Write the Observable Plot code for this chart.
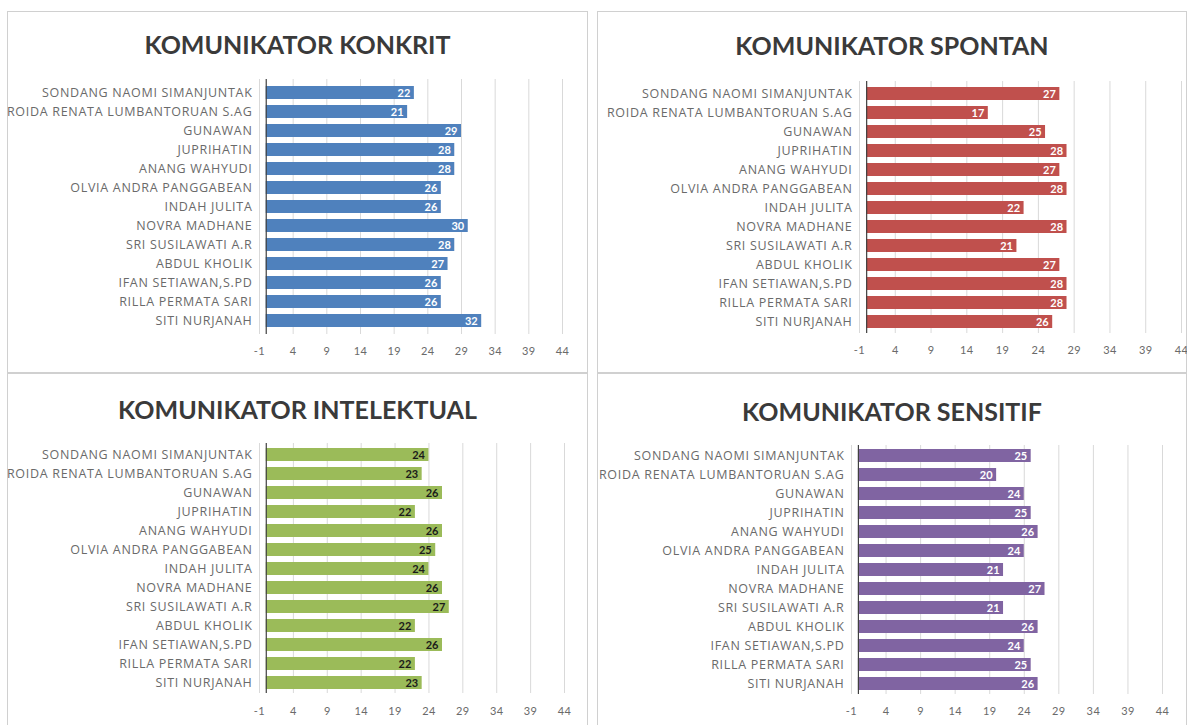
<!DOCTYPE html>
<html>
<head>
<meta charset="utf-8">
<script src="https://cdn.jsdelivr.net/npm/d3@7"></script>
<script src="https://cdn.jsdelivr.net/npm/@observablehq/plot@0.6"></script>
<style>
  html, body { margin: 0; padding: 0; background: #fff; }
  body { width: 1198px; height: 725px; overflow: hidden; position: relative; font-family: Lato, "Open Sans", sans-serif; }
  .panel { position: absolute; background: #fff; box-shadow: inset 0 0 0 1px #d0d0d0; overflow: hidden; }
  .panel svg { position: absolute; left: 0; top: 0; }
  .panel svg g[aria-label="y-axis tick label"] text { letter-spacing: 0.7px; }
  .panel svg g[aria-label="x-axis tick label"] text { letter-spacing: 0.4px; }
  .title { position: absolute; left: 0; right: 0; text-align: center; font-weight: 700; font-size: 25px; color: #3a3a3a; line-height: 1; z-index: 2; }
</style>
</head>
<body>
<script>
const names = [
  "SONDANG NAOMI SIMANJUNTAK",
  "ROIDA RENATA LUMBANTORUAN S.AG",
  "GUNAWAN",
  "JUPRIHATIN",
  "ANANG WAHYUDI",
  "OLVIA ANDRA PANGGABEAN",
  "INDAH JULITA",
  "NOVRA MADHANE",
  "SRI SUSILAWATI A.R",
  "ABDUL KHOLIK",
  "IFAN SETIAWAN,S.PD",
  "RILLA PERMATA SARI",
  "SITI NURJANAH"
];
const konkrit     = [22, 21, 29, 28, 28, 26, 26, 30, 28, 27, 26, 26, 32];
const spontan     = [27, 17, 25, 28, 27, 28, 22, 28, 21, 27, 28, 28, 26];
const intelektual = [24, 23, 26, 22, 26, 25, 24, 26, 27, 22, 26, 22, 23];
const sensitif    = [25, 20, 24, 25, 26, 24, 21, 27, 21, 26, 24, 25, 26];
const xTicks = [-1, 4, 9, 14, 19, 24, 29, 34, 39, 44];

const titles = ["KOMUNIKATOR KONKRIT", "KOMUNIKATOR SPONTAN", "KOMUNIKATOR INTELEKTUAL", "KOMUNIKATOR SENSITIF"];
const colors = ["#4f81bd", "#c0504d", "#9bbb59", "#8064a2"];
const labelColors = ["#ffffff", "#ffffff", "#1a1a1a", "#ffffff"];
const series = [konkrit, spontan, intelektual, sensitif];

const layouts = [
  {left: 7,   top: 11,  w: 581, h: 362, mL: 252, mR: 26, mT: 68, mB: 39, titleY: 21, tp: 13},
  {left: 597, top: 11,  w: 590, h: 362, mL: 262, mR: 6,  mT: 70, mB: 40, titleY: 22, tp: 13},
  {left: 7,   top: 373, w: 581, h: 360, mL: 252, mR: 24, mT: 70, mB: 40, titleY: 24, tp: 14},
  {left: 597, top: 373, w: 590, h: 360, mL: 254, mR: 25, mT: 72, mB: 39, titleY: 26, tp: 13}
];

series.forEach((vals, i) => {
  const L = layouts[i];
  const data = names.map((n, j) => ({name: n, value: vals[j]}));
  const panel = document.createElement("div");
  panel.className = "panel";
  Object.assign(panel.style, {left: L.left + "px", top: L.top + "px", width: L.w + "px", height: L.h + "px"});
  const t = document.createElement("div");
  t.className = "title";
  t.style.top = L.titleY + "px";
  t.textContent = titles[i];
  panel.appendChild(t);

  const chart = Plot.plot({
    width: L.w, height: L.h,
    marginLeft: L.mL, marginRight: L.mR, marginTop: L.mT, marginBottom: L.mB,
    style: {fontFamily: "Lato, sans-serif", background: "transparent", color: "#666666", overflow: "visible"},
    x: {domain: [-1, 44]},
    y: {domain: names, paddingInner: 0.32, paddingOuter: 0.16},
    marks: [
      Plot.gridX(xTicks, {stroke: "#d9d9d9", strokeOpacity: 1}),
      Plot.barX(data, {x: "value", y: "name", fill: colors[i]}),
      Plot.ruleX([0], {stroke: "#404040", strokeWidth: 1.2}),
      Plot.text(data, {x: "value", y: "name", text: d => String(d.value), textAnchor: "end", dx: -4,
        fill: labelColors[i], fontWeight: "bold", fontSize: 11}),
      Plot.axisX({ticks: xTicks, tickFormat: d => String(d), tickSize: 0, tickPadding: L.tp, fontSize: 11, label: null, fill: "#6a6a6a"}),
      Plot.axisY({tickSize: 0, tickPadding: 7, fontSize: 12.5, fontFamily: "Open Sans, sans-serif", label: null, fill: "#6a6a6a"})
    ]
  });
  panel.appendChild(chart);
  document.body.appendChild(panel);
});
</script>
</body>
</html>
